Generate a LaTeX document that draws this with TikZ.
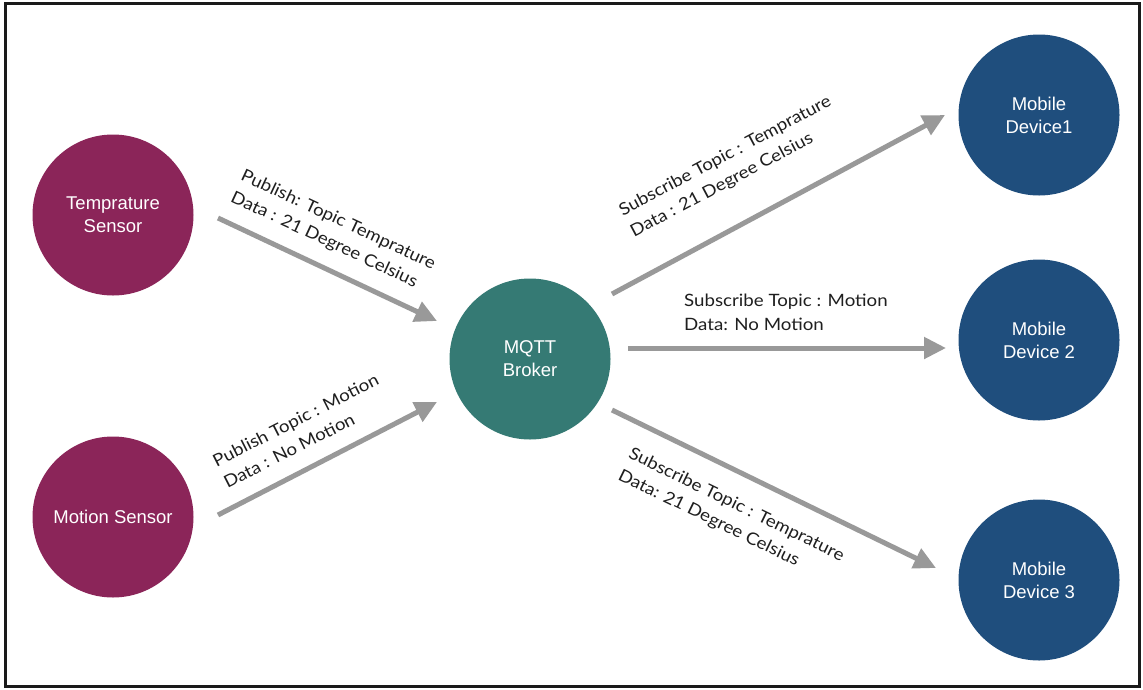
\documentclass[tikz,border=0pt]{standalone}
\usepackage{fontspec}
\setmainfont{Liberation Sans}
\newfontfamily\labelfont[FakeStretch=1.1]{Lato}
\usetikzlibrary{arrows.meta}
\definecolor{sensorcol}{HTML}{8B2559}
\definecolor{brokercol}{HTML}{357A74}
\definecolor{mobilecol}{HTML}{1F4E7D}
\definecolor{arrowcol}{HTML}{999999}
\definecolor{framecol}{HTML}{1A1A1A}
\tikzset{
  device/.style={circle, minimum size=161pt, inner sep=0pt, text=white,
    align=center, font=\fontsize{18.5}{23}\selectfont},
  sensor/.style={device, fill=sensorcol},
  broker/.style={device, fill=brokercol},
  mobile/.style={device, fill=mobilecol},
  flow/.style={draw=arrowcol, line width=5pt,
    -{Triangle[length=22pt,width=21pt]}},
  msg/.style={align=left, inner sep=0pt,
    font=\labelfont\fontsize{17}{24}\selectfont, text=black!88},
}
\begin{document}
\begin{tikzpicture}[x=1pt,y=-1pt]
  \useasboundingbox (0,0) rectangle (1143,689);
  \fill[white] (0,0) rectangle (1143,689);
  \draw[framecol, line width=3pt] (5.5,3.5) rectangle (1139.5,686.5);

  % devices
  \node[sensor] (temp)   at (113,215) {Temprature\\Sensor};
  \node[sensor] (motion) at (113,517) {Motion Sensor};
  \node[broker] (broker) at (530,359) {MQTT\\Broker};
  \node[mobile] (m1)     at (1039,115) {Mobile\\Device1};
  \node[mobile] (m2)     at (1039,340) {Mobile\\Device 2};
  \node[mobile] (m3)     at (1039,580) {Mobile\\Device 3};

  % connector end points
  \coordinate (a1s) at (218,218); \coordinate (a1e) at (437,321);
  \coordinate (a2s) at (218,515); \coordinate (a2e) at (437,402);
  \coordinate (a3s) at (612,294); \coordinate (a3e) at (945,115);
  \coordinate (a4s) at (628,348); \coordinate (a4e) at (946,348);
  \coordinate (a5s) at (612,410); \coordinate (a5e) at (936,568);

  \draw[flow] (a1s) -- (a1e);
  \draw[flow] (a2s) -- (a2e);
  \draw[flow] (a3s) -- (a3e);
  \draw[flow] (a4s) -- (a4e);
  \draw[flow] (a5s) -- (a5e);

  % messages
  \node[msg, rotate=-25] (l1) at (333,231)
    {Publish: Topic Temprature\\Data : 21 Degree Celsius};
  \node[msg, rotate=27] (l2) at (301,431)
    {Publish Topic : Motion\\Data : No Motion};
  \node[msg, rotate=28] (l3) at (731,167)
    {Subscribe Topic : Temprature\\Data : 21 Degree Celsius};
  \node[msg, anchor=north west] (l4) at (684,294)
    {Subscribe Topic : Motion\\Data: No Motion};
  \node[msg, rotate=-26] (l5) at (731,516)
    {Subscribe Topic : Temprature\\Data: 21 Degree Celsius};
\end{tikzpicture}
\end{document}
